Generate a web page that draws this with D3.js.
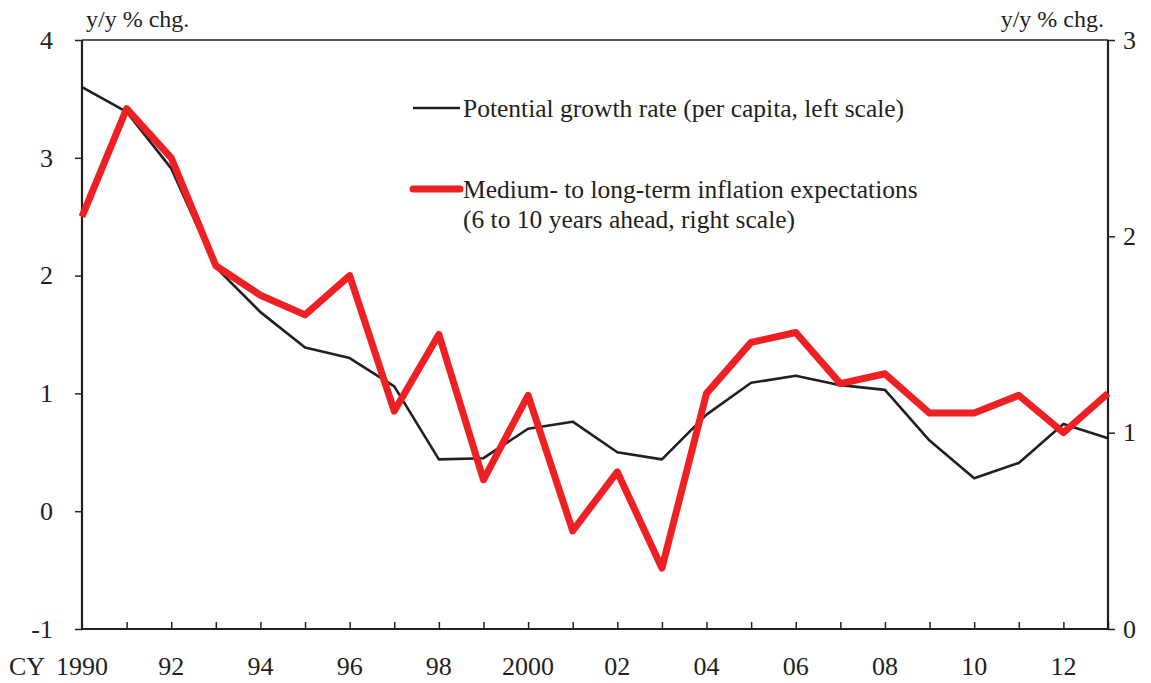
<!DOCTYPE html>
<html><head><meta charset="utf-8">
<script src="https://cdn.jsdelivr.net/npm/d3@7/dist/d3.min.js"></script>
<style>body{margin:0;background:#fff}svg text{font-family:"Liberation Serif","Times New Roman",serif;fill:#231f20}</style>
</head><body><svg id="c" width="1151" height="683"></svg>
<script>
const years = d3.range(1990, 2014);
const potentialGrowth = [3.60,3.39,2.91,2.07,1.69,1.39,1.30,1.06,0.44,0.45,0.70,0.76,0.50,0.44,0.82,1.09,1.15,1.07,1.03,0.60,0.28,0.41,0.74,0.62];
const inflationExp = [2.10,2.65,2.40,1.85,1.70,1.60,1.80,1.11,1.50,0.76,1.19,0.50,0.80,0.31,1.20,1.46,1.51,1.25,1.30,1.10,1.10,1.19,1.00,1.20];
const leftTicks = [-1,0,1,2,3,4];
const rightTicks = [0,1,2,3];
const xLabelYears = [1990,1992,1994,1996,1998,2000,2002,2004,2006,2008,2010,2012];
const xLabels = ["1990","92","94","96","98","2000","02","04","06","08","10","12"];
const legendLabels = ["Potential growth rate (per capita, left scale)", "Medium- to long-term inflation expectations", "(6 to 10 years ahead, right scale)"];

const black = "#231f20", red = "#ee2024";
const L = 82, R = 1108, T = 40, B = 629;
const svg = d3.select("#c");
const x = d3.scaleLinear().domain([1990, 2013]).range([L, R]);
const yL = d3.scaleLinear().domain([-1, 4]).range([B, T]);
const yR = d3.scaleLinear().domain([0, 3]).range([B, T]);

svg.append("line").attr("x1", L).attr("x2", R).attr("y1", T).attr("y2", T).attr("stroke", black).attr("stroke-width", 1.5);

const gL = svg.append("g").attr("transform", `translate(${L},0)`)
  .call(d3.axisLeft(yL).tickValues(leftTicks).tickSize(7).tickFormat(d => String(d)));
const gR = svg.append("g").attr("transform", `translate(${R},0)`)
  .call(d3.axisRight(yR).tickValues(rightTicks).tickSize(7).tickPadding(8).tickFormat(d => String(d)));
const gB = svg.append("g").attr("transform", `translate(0,${B})`)
  .call(d3.axisBottom(x).tickValues(years.slice(1)).tickSize(-7).tickFormat(""));
[gL, gR, gB].forEach(g => {
  g.select(".domain").attr("stroke", black).attr("stroke-width", 2.2);
  g.selectAll(".tick line").attr("stroke", black).attr("stroke-width", 1.5);
  g.selectAll(".tick text").style("font-size", "26px").attr("fill", black);
});
gL.selectAll(".tick text").attr("text-anchor", "end").attr("x", -29);
gB.select(".domain").attr("d", `M${L},0H${R}`);
gL.select(".domain").attr("d", `M0,${B}V${T}`);
gR.select(".domain").attr("d", `M0,${B}V${T}`);

svg.append("g").selectAll("text").data(xLabelYears).join("text")
  .attr("x", d => x(d)).attr("y", 675).attr("text-anchor", "middle")
  .style("font-size", "26px").text((d, i) => xLabels[i]);
svg.append("text").attr("x", 9).attr("y", 675).style("font-size", "26px").text("CY");

svg.append("text").attr("x", 86).attr("y", 27).style("font-size", "24px").text("y/y % chg.");
svg.append("text").attr("x", 1104).attr("y", 27).attr("text-anchor", "end").style("font-size", "24px").text("y/y % chg.");

const lineL = d3.line().x((d, i) => x(years[i])).y(d => yL(d));
const lineR = d3.line().x((d, i) => x(years[i])).y(d => yR(d));
svg.append("path").attr("d", lineL(potentialGrowth)).attr("fill", "none").attr("stroke", black).attr("stroke-width", 2.6).attr("stroke-linejoin", "round");
svg.append("path").attr("d", lineR(inflationExp)).attr("fill", "none").attr("stroke", red).attr("stroke-width", 7).attr("stroke-linejoin", "round");

svg.append("line").attr("x1", 413).attr("x2", 460).attr("y1", 108).attr("y2", 108).attr("stroke", black).attr("stroke-width", 2.6);
svg.append("line").attr("x1", 413).attr("x2", 460).attr("y1", 189).attr("y2", 189).attr("stroke", red).attr("stroke-width", 7).attr("stroke-linecap", "round");
svg.append("text").attr("x", 463).attr("y", 117).style("font-size", "25.5px").text(legendLabels[0]);
svg.append("text").attr("x", 463).attr("y", 198).style("font-size", "25.5px").text(legendLabels[1]);
svg.append("text").attr("x", 463).attr("y", 228).style("font-size", "25.5px").text(legendLabels[2]);
</script></body></html>
